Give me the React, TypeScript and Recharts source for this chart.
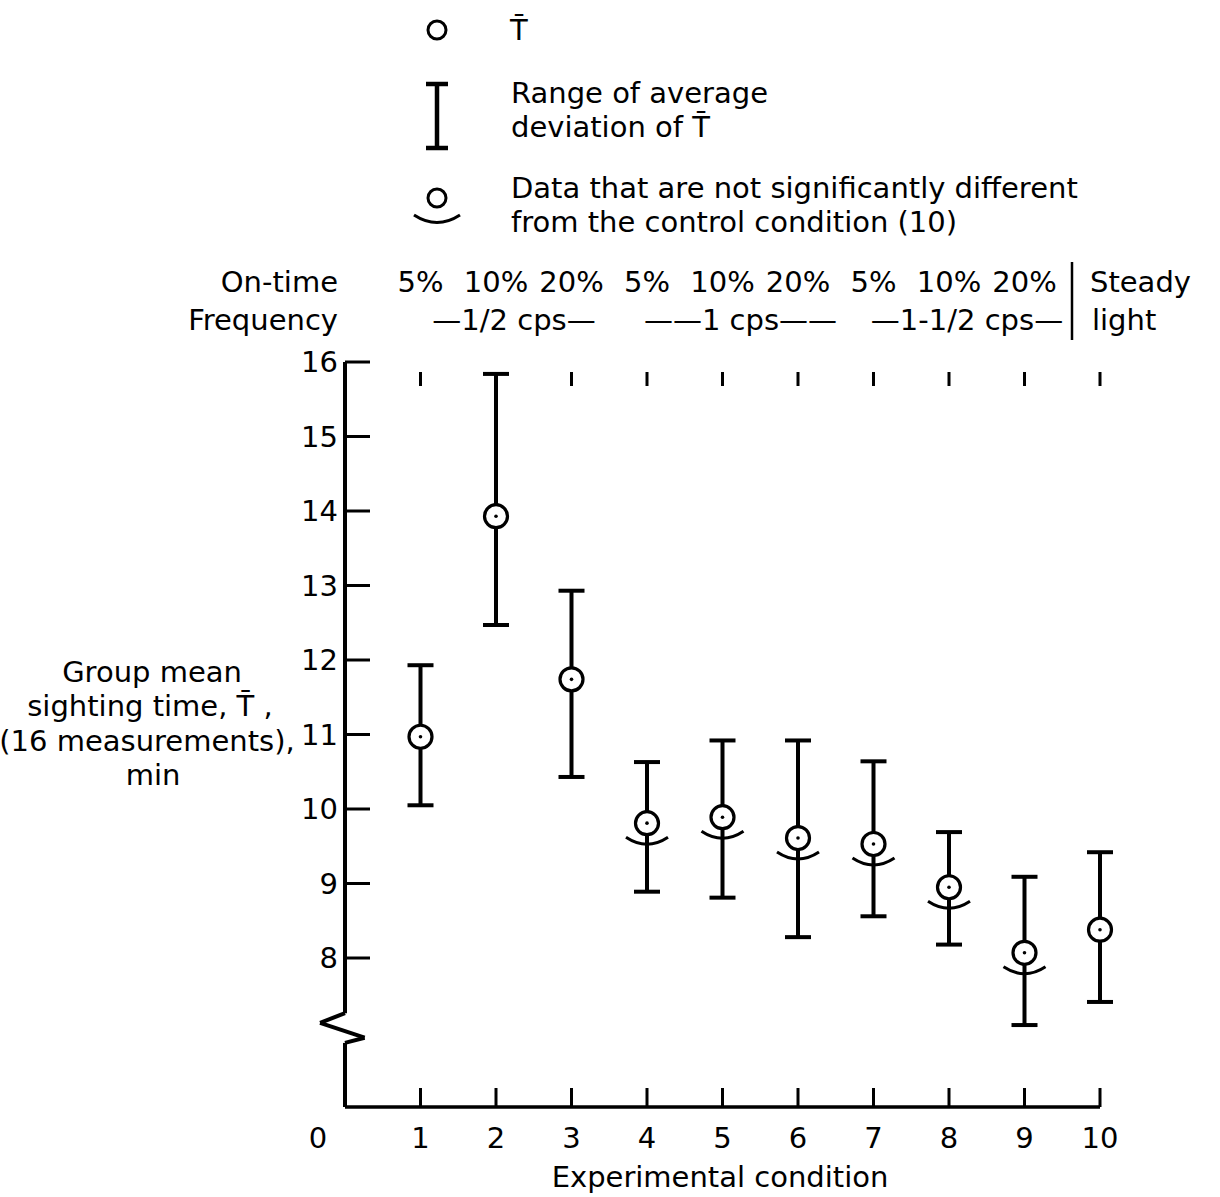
import { ScatterChart, Scatter, XAxis, YAxis, ErrorBar, ReferenceLine } from "recharts"

// experimental conditions 1..10, group mean sighting time (min)
const conditions = [1, 2, 3, 4, 5, 6, 7, 8, 9, 10]
const meanTime = [10.97, 13.93, 11.74, 9.81, 9.89, 9.61, 9.53, 8.95, 8.07, 8.38]
const upperDev = [11.93, 15.84, 12.93, 10.63, 10.92, 10.92, 10.64, 9.69, 9.09, 9.42]
const lowerDev = [10.05, 12.47, 10.43, 8.89, 8.81, 8.28, 8.56, 8.18, 7.1, 7.41]
// not significantly different from the control condition (10)
const notSignificant = [false, false, false, true, true, true, true, true, true, false]

const onTimeLabels = ["5%", "10%", "20%", "5%", "10%", "20%", "5%", "10%", "20%", "Steady"]
const frequencyLabels = ["", "\u20141/2 cps\u2014", "", "", "\u2014\u20141 cps\u2014\u2014", "", "", "\u20141-1/2 cps\u2014", "", "light"]

const xTicks = [0, 1, 2, 3, 4, 5, 6, 7, 8, 9, 10]
const yTicks = [8, 9, 10, 11, 12, 13, 14, 15, 16]
const Y_BASE = 6 // broken axis: shown as 0

// y axis line with the break zigzag (data coords)
const axisPath = [
  { x: 0, y: 16 },
  { x: 0, y: 7.26 },
  { x: -0.33, y: 7.13 },
  { x: 0.26, y: 6.93 },
  { x: 0, y: 6.86 },
  { x: 0, y: 6 },
]

const data = conditions.map((c, i) => ({
  x: c,
  y: meanTime[i],
  err: [meanTime[i] - lowerDev[i], upperDev[i] - meanTime[i]],
  ns: notSignificant[i],
}))

const W = 1220
const H = 1197
const MARGIN = { top: 362, right: 120, bottom: 50, left: 305 }
const BOTTOM_H = 40
const Y_W = 40
const PLOT_LEFT = MARGIN.left + Y_W
const PLOT_TOP = MARGIN.top
const PLOT_BOTTOM = H - MARGIN.bottom - BOTTOM_H
const FS = 29
const TBAR = "T\u0304"

const MeanMarker = (props: any) => {
  const { cx, cy, payload } = props
  return (
    <g>
      <circle cx={cx} cy={cy} r={11.5} fill="#fff" stroke="#000" strokeWidth={3.2} />
      <circle cx={cx} cy={cy} r={1.8} fill="#000" />
      {payload.ns && (
        <path d={`M${cx - 21},${cy + 14} Q${cx},${cy + 28} ${cx + 21},${cy + 14}`} fill="none" stroke="#000" strokeWidth={3} />
      )}
    </g>
  )
}

// bottom axis tick plus the on-time / frequency header above the plot
const ConditionTick = (props: any) => {
  const { x, payload } = props
  const v = payload.value
  const i = conditions.indexOf(v)
  const last = i === conditions.length - 1
  return (
    <g>
      {v > 0 && <line x1={x} x2={x} y1={PLOT_BOTTOM} y2={PLOT_BOTTOM - 19} stroke="#000" strokeWidth={3} />}
      <text x={v === 0 ? x - 27 : x} y={PLOT_BOTTOM + 41} textAnchor="middle" fontSize={FS} fill="#000">
        {v}
      </text>
      {i >= 0 && (
        <g>
          <line x1={x} x2={x} y1={PLOT_TOP + 10} y2={PLOT_TOP + 24} stroke="#000" strokeWidth={3} />
          <text x={last ? x - 10 : x} y={PLOT_TOP - 70} textAnchor={last ? "start" : "middle"} fontSize={FS} fill="#000">
            {onTimeLabels[i]}
          </text>
          {frequencyLabels[i] && (
            <text x={last ? x - 8 : x + 18} y={PLOT_TOP - 32} textAnchor={last ? "start" : "middle"} fontSize={FS} fill="#000">
              {frequencyLabels[i]}
            </text>
          )}
          {last && <line x1={x - 28} x2={x - 28} y1={PLOT_TOP - 100} y2={PLOT_TOP - 22} stroke="#000" strokeWidth={2.5} />}
        </g>
      )}
    </g>
  )
}

const LeftTick = (props: any) => {
  const { y, payload } = props
  return (
    <g>
      <line x1={PLOT_LEFT} x2={PLOT_LEFT + 25} y1={y} y2={y} stroke="#000" strokeWidth={3} />
      <text x={PLOT_LEFT - 7} y={y + 10} textAnchor="end" fontSize={FS} fill="#000">
        {payload.value === Y_BASE ? 0 : payload.value}
      </text>
    </g>
  )
}

function Overlay() {
  return (
    <svg width={W} height={H} style={{ position: "absolute", left: 0, top: 0, pointerEvents: "none" }}>
      <g fontSize={FS} fill="#000">
        {/* legend */}
        <circle cx={437} cy={30} r={9} fill="none" stroke="#000" strokeWidth={3} />
        <text x={510} y={40}>{TBAR}</text>
        <line x1={437} x2={437} y1={84} y2={148} stroke="#000" strokeWidth={4.5} />
        <line x1={426} x2={448} y1={84} y2={84} stroke="#000" strokeWidth={4.5} />
        <line x1={426} x2={448} y1={148} y2={148} stroke="#000" strokeWidth={4.5} />
        <text x={511} y={103}>Range of average</text>
        <text x={511} y={137}>deviation of {TBAR}</text>
        <circle cx={437} cy={198} r={9} fill="none" stroke="#000" strokeWidth={3} />
        <path d="M414,215 Q437,230 460,215" fill="none" stroke="#000" strokeWidth={3} />
        <text x={511} y={198}>Data that are not significantly different</text>
        <text x={511} y={232}>from the control condition (10)</text>

        {/* header row titles */}
        <text x={338} y={292} textAnchor="end">On-time</text>
        <text x={338} y={330} textAnchor="end">Frequency</text>

        {/* y axis title */}
        <g textAnchor="middle">
          <text x={152} y={682}>Group mean</text>
          <text x={150} y={716}>sighting time, {TBAR} ,</text>
          <text x={147} y={751}>(16 measurements),</text>
          <text x={153} y={785}>min</text>
        </g>

        {/* x axis title */}
        <text x={720} y={1187} textAnchor="middle">Experimental condition</text>
      </g>
    </svg>
  )
}

export default function App() {
  return (
    <div style={{ position: "absolute", left: 0, top: 0, width: W, height: H, background: "#fff", fontFamily: "'DejaVu Sans', sans-serif" }}>
      <ScatterChart width={W} height={H} margin={MARGIN}>
        <XAxis
          type="number"
          dataKey="x"
          domain={[0, 10]}
          ticks={xTicks}
          height={BOTTOM_H}
          axisLine={{ stroke: "#000", strokeWidth: 3.5 }}
          tickLine={false}
          tick={<ConditionTick />}
          interval={0}
        />
        <YAxis
          type="number"
          dataKey="y"
          domain={[Y_BASE, 16]}
          allowDataOverflow
          ticks={yTicks}
          width={Y_W}
          axisLine={false}
          tickLine={false}
          tick={<LeftTick />}
          interval={0}
        />
        {axisPath.slice(1).map((p, i) => (
          <ReferenceLine
            key={i}
            segment={[axisPath[i], p]}
            ifOverflow="visible"
            stroke="#000"
            strokeWidth={4}
          />
        ))}
        <Scatter data={data} dataKey="y" shape={<MeanMarker />} isAnimationActive={false}>
          <ErrorBar dataKey="err" direction="y" width={13} stroke="#000" strokeWidth={4} isAnimationActive={false} />
        </Scatter>
      </ScatterChart>
      <Overlay />
    </div>
  )
}
